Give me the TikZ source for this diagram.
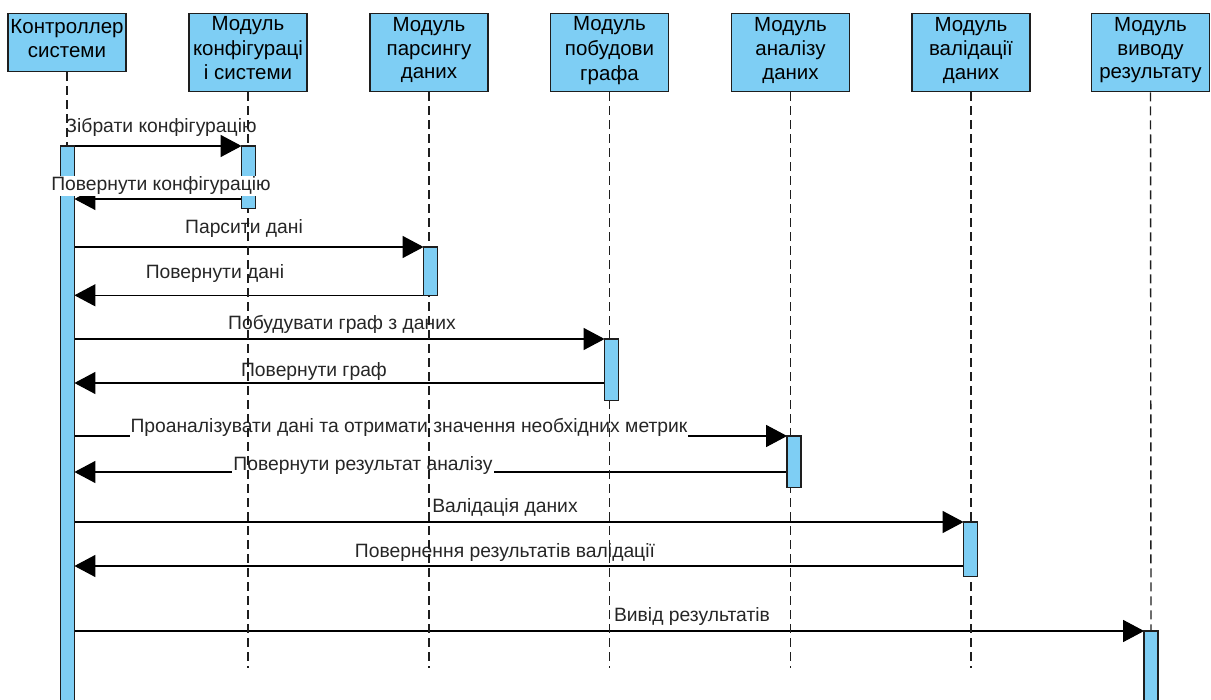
\documentclass[tikz,border=0pt]{standalone}
\usepackage{fontspec}
\setmainfont{Liberation Sans}
\usetikzlibrary{arrows.meta}
\definecolor{actblue}{RGB}{126,206,244}
\definecolor{edge}{RGB}{30,30,30}
\newcommand\hstr{\rule[-8.7pt]{0pt}{22.7pt}}
\begin{document}
\begin{tikzpicture}[x=1pt,y=-1pt,
  hdr/.style={draw=edge, line width=1.4pt, fill=actblue, minimum width=118pt,
    inner sep=0pt, align=center, anchor=north,
    font=\fontsize{20.5}{23.5}\selectfont},
  bar/.style={draw=edge, line width=1.3pt, fill=actblue, minimum width=12.5pt,
    inner sep=0pt, anchor=north},
  life/.style={line width=1.4pt, draw=edge, dash pattern=on 9pt off 5pt},
  msg/.style={line width=1.3pt, draw=black, -{Triangle[length=21pt,width=22pt]}},
  lbl/.style={font=\fontsize{19.3}{21}\selectfont, anchor=base, inner sep=1pt, text=black!85},
  lblbg/.style={lbl, fill=white, inner ysep=2pt}
]
\useasboundingbox (0,0) rectangle (1211,700);

% headers
\node[hdr, minimum height=58pt] (h1) at (67,13) {\hstr Контроллер\\\hstr системи};
\node[hdr, minimum height=78pt] (h2) at (248,13) {\hstr Модуль\\\hstr конфігураці\\\hstr і системи};
\node[hdr, minimum height=78pt] (h3) at (429,13) {\hstr Модуль\\\hstr парсингу\\\hstr даних};
\node[hdr, minimum height=78pt] (h4) at (609.5,13) {\hstr Модуль\\\hstr побудови\\\hstr графа};
\node[hdr, minimum height=78pt] (h5) at (790.5,13) {\hstr Модуль\\\hstr аналізу\\\hstr даних};
\node[hdr, minimum height=78pt] (h6) at (971,13) {\hstr Модуль\\\hstr валідації\\\hstr даних};
\node[hdr, minimum height=78pt] (h7) at (1150.5,13) {\hstr Модуль\\\hstr виводу\\\hstr результату};

% lifeline ends
\coordinate (e1) at (h1.south |- 0,668);
\coordinate (e2) at (h2.south |- 0,668);
\coordinate (e3) at (h3.south |- 0,668);
\coordinate (e4) at (h4.south |- 0,668);
\coordinate (e5) at (h5.south |- 0,668);
\coordinate (e6) at (h6.south |- 0,668);

% activation bars (positions only, drawn later)
\path
  node[bar, minimum height=556pt, draw=none, fill=none] (a1) at (67.5,146) {}
  node[bar, minimum height=61pt, draw=none, fill=none] (a2) at (248.5,146) {}
  node[bar, minimum height=47pt, draw=none, fill=none] (a3) at (430.5,247) {}
  node[bar, minimum height=60pt, draw=none, fill=none] (a4) at (611.5,339) {}
  node[bar, minimum height=50pt, draw=none, fill=none] (a5) at (794,436) {}
  node[bar, minimum height=53pt, draw=none, fill=none] (a6) at (970.5,522) {}
  node[bar, minimum height=71pt, draw=none, fill=none] (a7) at (1151,631) {};

% return points
\coordinate (r2) at (a2.west |- 0,199);
\coordinate (r6) at (a4.west |- 0,383);
\coordinate (r8) at (a5.west |- 0,472);
\coordinate (r10) at (a6.west |- 0,566);

% messages
\draw[msg] (a1.east |- a2.north west) -- (a2.north west);
\draw[msg] (r2) -- (a1.east |- r2);
\draw[msg] (a1.east |- a3.north west) -- (a3.north west);
\draw[msg] (a3.south west) -- (a1.east |- a3.south west);
\draw[msg] (a1.east |- a4.north west) -- (a4.north west);
\draw[msg] (r6) -- (a1.east |- r6);
\draw[msg] (a1.east |- a5.north west) -- (a5.north west);
\draw[msg] (r8) -- (a1.east |- r8);
\draw[msg] (a1.east |- a6.north west) -- (a6.north west);
\draw[msg] (r10) -- (a1.east |- r10);
\draw[msg] (a1.east |- a7.north west) -- (a7.north west);

% labels
\node[lbl] (l1) at (161,133) {Зібрати конфігурацію};
\node[lbl] (l3) at (244,234) {Парсити дані};
\node[lbl] (l4) at (215,279) {Повернути дані};
\node[lbl] (l5) at (342,330) {Побудувати граф з даних};
\node[lbl] (l6) at (314,377) {Повернути граф};
\node[lblbg] (l7) at (409,433) {Проаналізувати дані та отримати значення необхідних метрик};
\node[lblbg] (l8) at (363,471) {Повернути результат аналізу};
\node[lbl] (l9) at (505,512) {Валідація даних};
\node[lbl] (l10) at (505,558) {Повернення результатів валідації};
\node[lbl] (l11) at (692,621) {Вивід результатів};

% lifelines
\draw[life] (h1.south) -- (e1);
\draw[life] (h2.south) -- (e2);
\draw[life] (h3.south) -- (e3);
\draw[life] (h4.south) -- (e4);
\draw[life] (h5.south) -- (e5);
\draw[life] (h6.south) -- (e6);
\draw[life] (h7.south) -- (a7.north);

% bars drawn on top
\foreach \b in {a1,a2,a3,a4,a5,a6,a7}
  \draw[draw=edge, line width=1.3pt, fill=actblue] (\b.north west) rectangle (\b.south east);

% label over the bars
\node[lblbg, inner ysep=1pt] (l2) at (161,191) {Повернути конфігурацію};
\end{tikzpicture}
\end{document}
